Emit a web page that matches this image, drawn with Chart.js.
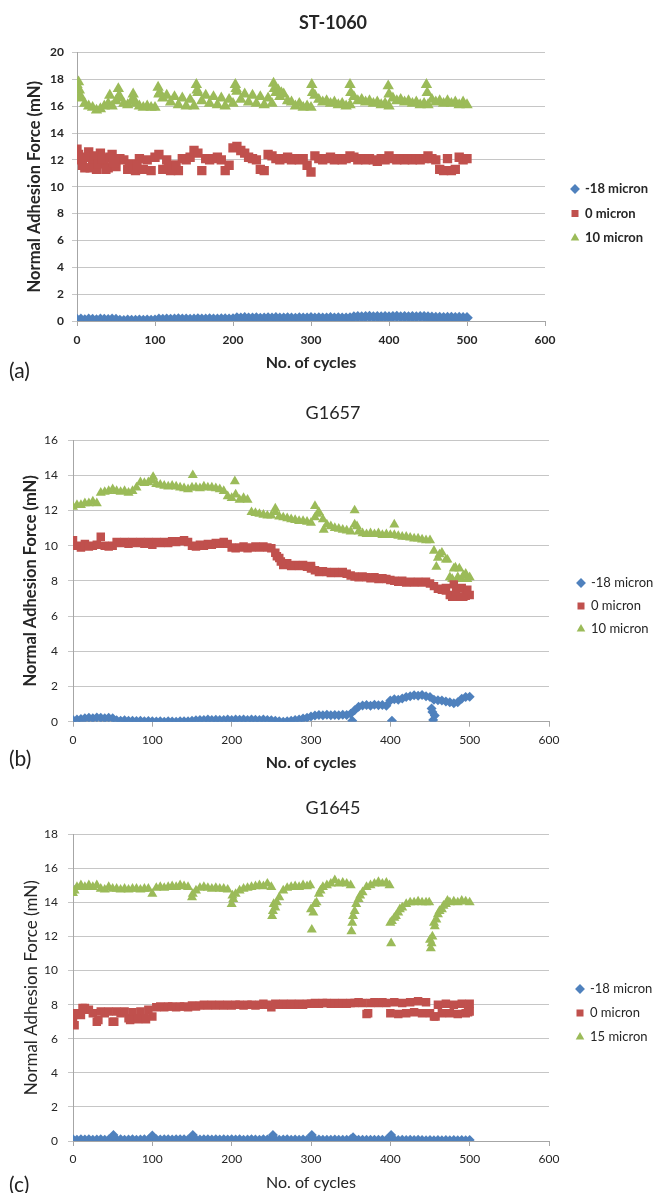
<!DOCTYPE html>
<html>
<head>
<meta charset="utf-8">
<script src="https://cdn.jsdelivr.net/npm/chart.js@4.4.1/dist/chart.umd.min.js"></script>
<style>
  body { margin: 0; background: #fff; width: 654px; height: 1193px; position: relative; overflow: hidden; font-family: Lato, sans-serif; }
  .panel { position: absolute; left: 0; width: 654px; }
  .tag { position: absolute; left: 9px; font-size: 21px; line-height: 24px; color: #222; }
</style>
</head>
<body>
<div class="panel" style="top:0"><canvas id="chart-a" width="654" height="400"></canvas></div>
<div class="panel" style="top:400px"><canvas id="chart-b" width="654" height="390"></canvas></div>
<div class="panel" style="top:790px"><canvas id="chart-c" width="654" height="403"></canvas></div>
<div class="tag" style="top:358px">(a)</div>
<div class="tag" style="top:746px">(b)</div>
<div class="tag" style="top:1172px">(c)</div>
<script>
const FONT = "Lato, 'Open Sans', sans-serif";
const BLUE = "#4f81bd";
const RED = "#c0504d";
const GREEN = "#9bbb59";

// cycle numbers shared by every series (one reading every 5 cycles)
const cycles = [
  0, 5, 10, 15, 20, 25, 30, 35, 40, 45, 50, 55, 60, 65, 70, 75, 80, 85, 90, 95,
  100, 105, 110, 115, 120, 125, 130, 135, 140, 145, 150, 155, 160, 165, 170, 175, 180, 185, 190, 195,
  200, 205, 210, 215, 220, 225, 230, 235, 240, 245, 250, 255, 260, 265, 270, 275, 280, 285, 290, 295,
  300, 305, 310, 315, 320, 325, 330, 335, 340, 345, 350, 355, 360, 365, 370, 375, 380, 385, 390, 395,
  400, 405, 410, 415, 420, 425, 430, 435, 440, 445, 450, 455, 460, 465, 470, 475, 480, 485, 490, 495, 500,
];
const xTicks = [0, 100, 200, 300, 400, 500, 600];

// ---- (a) ST-1060 ----
const stMinus18 = [
  0.10, 0.12, 0.08, 0.12, 0.10, 0.08, 0.12, 0.10, 0.09, 0.12, 0.10,
  0.04, 0.02, 0.05, 0.03, 0.04, 0.06, 0.03, 0.05, 0.04, 0.06,
  0.12, 0.10, 0.13, 0.11, 0.12, 0.14, 0.12, 0.13, 0.11, 0.12, 0.14, 0.13, 0.12, 0.15, 0.13, 0.12, 0.14, 0.15, 0.13, 0.14,
  0.22, 0.20, 0.23, 0.21, 0.20, 0.22, 0.19, 0.21, 0.22, 0.20, 0.23, 0.21, 0.20, 0.22, 0.21,
  0.19, 0.22, 0.21, 0.20, 0.23, 0.21, 0.22, 0.20, 0.21, 0.23, 0.20, 0.22, 0.21, 0.20, 0.22,
  0.30, 0.32, 0.29, 0.31, 0.33, 0.30, 0.31, 0.29, 0.32, 0.30, 0.31, 0.33, 0.30, 0.32, 0.29, 0.31, 0.30, 0.32, 0.31, 0.29,
  0.27, 0.25, 0.26, 0.24, 0.25, 0.26, 0.24, 0.25, 0.23, 0.24,
];
const st0 = [
  12.8, 12.0, 11.4, 12.6, 11.8, 11.3, 12.5, 11.9, 11.4, 12.4, 11.5,
  12.1, 12.0, 11.3, 11.7, 11.2, 12.1, 11.3, 12.0, 11.2, 12.2,
  12.4, 11.3, 12.0, 11.2, 11.6, 11.2, 12.1, 12.0, 12.2, 12.7,
  12.5, 11.2, 12.1, 12.0, 12.1, 12.2, 12.0, 11.2, 11.6, 12.9,
  13.0, 12.7, 12.5, 12.2, 12.1, 12.0, 11.3, 11.2, 12.4, 12.3,
  12.1, 12.0, 12.1, 12.2, 12.0, 12.1, 12.0, 12.1, 11.6, 11.1,
  12.3, 12.1, 12.0, 12.1, 12.2, 12.0, 12.1, 12.0, 12.1, 12.3,
  12.2, 12.0, 12.1, 12.0, 12.1, 12.0, 11.9, 12.1, 12.0, 12.3,
  12.1, 12.0, 12.1, 12.0, 12.1, 12.0, 12.1, 12.0, 12.1, 12.3,
  12.1, 12.0, 11.3, 11.2, 12.1, 11.2, 11.3, 12.2, 12.0, 12.1,
];
// readings inside the dense block of the first 50 cycles
const st0BlockX = [2, 7, 12, 17, 22, 27, 32, 37, 42, 47, 67, 72, 77, 117, 122, 127];
const st0BlockY = [12.4, 11.6, 12.2, 11.4, 12.3, 11.7, 12.1, 11.3, 12.2, 11.8, 11.6, 11.3, 11.6, 11.5, 11.3, 11.6];
const st10 = [
  17.6, 16.6, 16.2, 16.0, 15.9, 15.7, 15.8, 16.0, 16.2, 16.0, 16.4,
  16.6, 16.2, 16.1, 16.4, 16.2, 16.0, 15.9, 16.0, 15.9, 15.9,
  16.9, 16.6, 16.8, 16.3, 16.7, 16.1, 16.6, 16.0, 16.5, 16.0,
  17.0, 16.4, 16.8, 16.2, 16.7, 16.1, 16.6, 16.0, 16.5, 16.2,
  17.1, 16.5, 16.9, 16.3, 16.8, 16.2, 16.7, 16.1, 16.6, 16.2,
  17.0, 16.7, 16.9, 16.4, 16.3, 16.0, 16.2, 15.9, 16.0, 15.9,
  16.8, 16.5, 16.3, 16.4, 16.2, 16.3, 16.1, 16.2, 16.0, 16.1,
  16.7, 16.4, 16.5, 16.3, 16.4, 16.2, 16.3, 16.1, 16.2, 16.0,
  16.6, 16.4, 16.5, 16.3, 16.4, 16.2, 16.3, 16.1, 16.2, 16.1,
  16.5, 16.3, 16.4, 16.2, 16.4, 16.2, 16.3, 16.1, 16.3, 16.1,
];
// restart peaks between the 5-cycle readings
const st10PeakX = [2, 3, 4, 42, 53, 54, 72, 73, 104, 106, 153, 154, 203, 204, 252, 253, 258, 262, 301, 302, 350, 351, 399, 400, 448, 449];
const st10PeakY = [17.8, 17.2, 16.8, 16.8, 17.3, 16.8, 16.9, 16.5, 17.4, 17.0, 17.6, 17.2, 17.6, 17.3, 17.7, 17.3, 17.2, 17.0, 17.6, 17.0, 17.6, 17.0, 17.5, 16.9, 17.6, 17.0];

// ---- (b) G1657 ----
const g57Minus18 = [
  0.10, 0.12, 0.15, 0.20, 0.22, 0.20, 0.24, 0.22, 0.20, 0.23, 0.20,
  0.08, 0.06, 0.08, 0.05, 0.06, 0.04, 0.05, 0.03, 0.04, 0.02,
  0.01, 0.02, 0.00, 0.02, 0.01, 0.00, 0.02, 0.03, 0.02, 0.05,
  0.08, 0.10, 0.09, 0.12, 0.10, 0.11, 0.09, 0.10, 0.12, 0.10,
  0.13, 0.11, 0.12, 0.10, 0.13, 0.11, 0.09, 0.12, 0.10, 0.08,
  0.05, 0.02, 0.00, 0.03, 0.06, 0.10, 0.12, 0.18, 0.22,
  0.30, 0.35, 0.38, 0.36, 0.40, 0.37, 0.38, 0.36, 0.39, 0.38,
  0.45, 0.65, 0.85, 0.92, 0.95, 0.90, 0.96, 0.93, 0.95, 0.90,
  1.20, 1.28, 1.25, 1.32, 1.40, 1.45, 1.50, 1.48, 1.52, 1.45,
  1.40, 1.25, 1.22, 1.20, 1.15, 1.10, 1.05, 1.10, 1.30, 1.40, 1.42,
];
const g57Minus18ExtraX = [352, 402, 452, 453, 454, 456];
const g57Minus18ExtraY = [0.05, 0.05, 0.75, 0.55, 0.10, 0.35];
const g57Zero = [
  10.3, 10.0, 9.9, 10.1, 9.95, 10.0, 10.05, 10.5, 10.0, 9.95, 10.0,
  10.2, 10.15, 10.2, 10.1, 10.2, 10.15, 10.2, 10.1, 10.2, 10.05,
  10.2, 10.15, 10.2, 10.15, 10.25, 10.2, 10.25, 10.3, 10.2, 10.0,
  9.95, 10.05, 10.0, 10.1, 10.05, 10.15, 10.1, 10.2, 10.1, 9.9,
  9.85, 9.9, 9.95, 9.85, 9.9, 9.95, 9.9, 9.95, 9.9, 9.85,
  9.6, 9.3, 8.9, 9.0, 8.85, 8.9, 8.85, 8.9, 8.8, 8.7,
  8.6, 8.5, 8.55, 8.5, 8.45, 8.5, 8.45, 8.5, 8.4, 8.3,
  8.25, 8.2, 8.25, 8.2, 8.15, 8.2, 8.1, 8.15, 8.1, 8.05,
  8.0, 7.95, 8.0, 7.9, 7.95, 7.9, 7.95, 7.9, 7.95, 7.85,
  7.7, 7.55, 7.5, 7.45, 7.2, 7.8, 7.1, 7.6, 7.15, 7.2,
];
const g57ZeroExtraX = [257, 262, 300, 470, 478, 483, 492, 497];
const g57ZeroExtraY = [9.4, 9.1, 8.85, 7.6, 7.1, 7.4, 7.1, 7.5];
const g57Ten = [
  12.2, 12.3, 12.3, 12.4, 12.4, 12.5, 12.4, 13.0, 13.05, 13.1, 13.2,
  13.1, 13.05, 13.1, 13.0, 13.1, 13.3, 13.6, 13.55, 13.6, 13.7,
  13.5, 13.45, 13.4, 13.35, 13.4, 13.35, 13.3, 13.25, 13.2, 13.3,
  13.3, 13.25, 13.35, 13.3, 13.3, 13.25, 13.2, 13.1, 12.8, 12.7,
  12.9, 12.6, 12.7, 12.6, 11.9, 11.85, 11.8, 11.75, 11.7, 11.7,
  11.9, 11.65, 11.6, 11.55, 11.5, 11.45, 11.4, 11.4, 11.35, 11.3,
  11.6, 11.9, 11.5, 11.2, 11.1, 11.0, 10.95, 10.9, 10.85, 10.8,
  11.2, 10.8, 10.7, 10.65, 10.7, 10.65, 10.7, 10.6, 10.65, 10.6,
  10.6, 10.55, 10.5, 10.5, 10.45, 10.4, 10.4, 10.35, 10.3, 10.3,
  9.7, 9.3, 9.6, 9.2, 8.2, 8.7, 8.2, 8.1, 8.4, 8.2,
];
const g57TenExtraX = [101, 151, 204, 255, 305, 308, 316, 355, 358, 405, 458, 462, 472, 478, 482, 487, 492, 497];
const g57TenExtraY = [13.9, 14.0, 13.65, 12.1, 12.25, 11.8, 10.9, 12.0, 11.1, 11.2, 8.8, 9.5, 9.2, 8.1, 8.75, 8.7, 8.3, 8.1];

// ---- (c) G1645 ----
const g45Minus18 = [
  0.10, 0.08, 0.10, 0.09, 0.10, 0.08, 0.09, 0.10, 0.08, 0.09, 0.12, 0.09, 0.10, 0.08, 0.09, 0.10, 0.08, 0.09, 0.10, 0.09, 0.12,
  0.10, 0.09, 0.10, 0.11, 0.09, 0.10, 0.11, 0.10, 0.09, 0.14, 0.10, 0.09, 0.10, 0.11, 0.09, 0.10, 0.09, 0.10, 0.09, 0.10,
  0.09, 0.10, 0.08, 0.09, 0.10, 0.09, 0.08, 0.10, 0.09, 0.12, 0.09, 0.08, 0.09, 0.10, 0.08, 0.09, 0.08, 0.09, 0.08, 0.12,
  0.08, 0.09, 0.08, 0.07, 0.08, 0.09, 0.08, 0.07, 0.08, 0.10, 0.08, 0.07, 0.08, 0.07, 0.08, 0.07, 0.08, 0.07, 0.08, 0.11,
  0.07, 0.06, 0.07, 0.06, 0.07, 0.06, 0.07, 0.06, 0.05, 0.06, 0.05, 0.06, 0.05, 0.06, 0.05, 0.06, 0.05, 0.06, 0.05, 0.06,
];
const g45Minus18ExtraX = [51, 100, 151, 252, 301, 353, 401];
const g45Minus18ExtraY = [0.35, 0.32, 0.35, 0.35, 0.35, 0.22, 0.35];
const g45Zero = [
  7.2, 7.5, 7.4, 7.8, 7.7, 7.5, 7.0, 7.6, 7.5, 7.6, 7.0,
  7.6, 7.5, 7.6, 7.2, 7.55, 7.2, 7.6, 7.2, 7.7, 7.3,
  7.85, 7.9, 7.85, 7.9, 7.9, 7.85, 7.9, 7.9, 7.85, 7.95,
  7.9, 7.95, 8.0, 7.95, 8.0, 7.95, 8.0, 7.95, 8.0, 7.95,
  8.0, 8.0, 7.95, 8.0, 8.0, 7.95, 8.0, 8.05, 8.0, 7.85,
  8.05, 8.0, 8.05, 8.0, 8.05, 8.0, 8.05, 8.0, 8.05, 8.05,
  8.1, 8.05, 8.1, 8.1, 8.05, 8.1, 8.05, 8.1, 8.05, 8.1,
  8.1, 8.15, 8.1, 7.45, 8.1, 8.15, 8.1, 8.15, 8.1, 7.5,
  8.15, 7.45, 8.1, 7.5, 8.15, 7.55, 8.2, 7.5, 8.15, 7.5,
  7.3, 8.0, 7.5, 8.05, 7.5, 8.0, 7.45, 8.05, 7.5, 8.05,
];
const g45ZeroExtraX = [2, 12, 32, 52, 72, 82, 92, 372, 457, 498, 500];
const g45ZeroExtraY = [6.8, 7.8, 7.1, 7.0, 7.1, 7.15, 7.15, 7.5, 7.3, 7.55, 7.6];
const g45Fifteen = [
  14.55, 14.9, 15.0, 14.9, 15.0, 14.9, 15.0, 14.8, 14.75, 14.9, 14.8,
  14.8, 14.75, 14.8, 14.75, 14.8, 14.8, 14.75, 14.8, 14.8, 14.5,
  14.85, 14.9, 14.85, 14.9, 14.95, 14.9, 15.0, 14.95, 14.9, 14.3,
  14.7, 14.85, 14.9, 14.85, 14.8, 14.85, 14.8, 14.8, 14.75, 13.9,
  14.5, 14.7, 14.8, 14.85, 14.9, 14.95, 15.0, 14.95, 15.1, 14.9,
  13.7, 14.3, 14.7, 14.85, 14.9, 14.95, 14.9, 15.0, 14.95, 13.6,
  13.9, 14.5, 14.9, 15.0, 15.1, 15.3, 15.1, 15.15, 15.1, 15.0,
  13.5, 14.2, 14.6, 14.9, 15.0, 15.1, 15.2, 15.1, 15.15, 12.8,
  13.1, 13.4, 13.7, 13.9, 14.0, 14.0, 14.05, 14.0, 14.0, 11.8,
  12.8, 13.3, 13.6, 13.9, 14.0, 14.05, 14.0, 14.1, 14.05, 14.0,
];
const g45FifteenExtraX = [2, 151, 201, 202, 251, 252, 253, 257, 299, 301, 303, 307, 312, 351, 352, 353, 357, 362, 399, 401, 402, 407, 412, 449, 451, 452, 453, 456, 458, 462, 467, 472];
const g45FifteenExtraY = [14.7, 14.5, 14.4, 14.2, 13.2, 13.5, 13.9, 14.0, 15.0, 12.4, 13.4, 14.0, 14.7, 12.3, 12.8, 13.2, 13.9, 14.4, 15.0, 11.6, 12.9, 13.2, 13.6, 14.0, 11.3, 11.6, 12.0, 12.6, 13.0, 13.5, 13.8, 14.1];

function toPoints(xs, ys, extraX = [], extraY = []) {
  const pts = xs.map((x, i) => ({ x: x, y: ys[i] }));
  extraX.forEach((x, i) => pts.push({ x: x, y: extraY[i] }));
  return pts;
}

function series(label, color, style, radius, pts) {
  return {
    label: label,
    data: pts,
    pointStyle: style,
    pointRadius: radius,
    pointHoverRadius: radius,
    backgroundColor: color,
    borderColor: color,
    borderWidth: 0,
    showLine: false,
  };
}

// places the legend at a fixed spot to the right of the plot
const legendSpot = {
  id: "legendSpot",
  afterLayout(chart, args, opts) {
    const l = chart.legend;
    l.left = opts.x - opts.box / 2 - opts.pad;
    l.top = opts.y - opts.size / 2 - opts.pad;
    l.width = 130;
    l.height = 120;
    l.right = l.left + 130;
    l.bottom = l.top + 120;
  },
};

function makeChart(id, s) {
  const ctx = document.getElementById(id).getContext("2d");
  const textColor = "#262626";
  return new Chart(ctx, {
    type: "scatter",
    data: { datasets: s.datasets },
    plugins: [legendSpot],
    options: {
      responsive: false,
      animation: false,
      events: [],
      layout: { padding: { left: 12, top: 0, right: 0, bottom: s.padBottom } },
      scales: {
        x: {
          type: "linear",
          min: 0,
          max: 600,
          afterBuildTicks: (axis) => { axis.ticks = xTicks.map((v) => ({ value: v })); },
          afterFit: (axis) => { axis.height = s.xHeight; },
          grid: { display: true, drawOnChartArea: false, tickLength: 5, color: "#a6a6a6" },
          border: { color: "#a6a6a6" },
          ticks: { padding: s.xTickPad, color: textColor, font: { family: FONT, size: 12, weight: s.tickWeight } },
          title: {
            display: true,
            text: "No. of cycles",
            color: textColor,
            padding: { top: 0, bottom: 0 },
            font: { family: FONT, size: 16, weight: s.axisWeight },
          },
        },
        y: {
          min: 0,
          max: s.yMax,
          afterFit: (axis) => { axis.width = s.yWidth; },
          grid: { color: "#c6c6c6", tickLength: 5, lineWidth: 1 },
          border: { color: "#a6a6a6" },
          ticks: { stepSize: 2, padding: s.yTickPad, color: textColor, font: { family: FONT, size: 12, weight: s.tickWeight } },
          title: {
            display: true,
            text: "Normal Adhesion Force (mN)",
            color: textColor,
            padding: { top: s.yTitlePad, bottom: 0 },
            font: { family: FONT, size: s.yTitleSize, weight: s.axisWeight },
          },
        },
        spare: {
          type: "linear",
          position: "right",
          display: true,
          afterFit: (axis) => { axis.width = s.rightGap; },
          grid: { display: false, drawTicks: false },
          border: { display: false },
          ticks: { display: false },
        },
      },
      plugins: {
        title: {
          display: true,
          text: s.title,
          color: textColor,
          padding: { top: s.titlePadTop, bottom: s.titlePadBottom },
          font: { family: FONT, size: 18, weight: s.titleWeight },
        },
        legend: {
          position: "chartArea",
          align: "start",
          labels: {
            usePointStyle: true,
            boxWidth: 7,
            boxHeight: 7,
            padding: s.legendPad,
            color: textColor,
            font: { family: FONT, size: 13, weight: s.legendWeight },
          },
        },
        legendSpot: { x: s.legendX, y: s.legendY, box: 7, pad: s.legendPad, size: 13 },
        tooltip: { enabled: false },
      },
    },
  });
}

makeChart("chart-a", {
  title: "ST-1060",
  yMax: 20,
  datasets: [
    series("-18 micron", BLUE, "rectRot", 5.8, toPoints(cycles, stMinus18)),
    series("0 micron", RED, "rect", 6.6, toPoints(cycles, st0, st0BlockX, st0BlockY)),
    series("10 micron", GREEN, "triangle", 6.6, toPoints(cycles, st10, st10PeakX, st10PeakY)),
  ],
  padBottom: 27.4, xHeight: 51.6, xTickPad: 7,
  yWidth: 65, yTickPad: 8, yTitlePad: 13.1, yTitleSize: 16.5,
  rightGap: 109,
  titlePadTop: 12.2, titlePadBottom: 18.7,
  legendX: 575, legendY: 189, legendPad: 11.5,
  titleWeight: "bold", axisWeight: "bold", tickWeight: "bold", legendWeight: "bold",
});

makeChart("chart-b", {
  title: "G1657",
  yMax: 16,
  datasets: [
    series("-18 micron", BLUE, "rectRot", 5, toPoints(cycles, g57Minus18, g57Minus18ExtraX, g57Minus18ExtraY)),
    series("0 micron", RED, "rect", 6, toPoints(cycles, g57Zero, g57ZeroExtraX, g57ZeroExtraY)),
    series("10 micron", GREEN, "triangle", 5.8, toPoints(cycles, g57Ten, g57TenExtraX, g57TenExtraY)),
  ],
  padBottom: 17.4, xHeight: 50.9, xTickPad: 6,
  yWidth: 61, yTickPad: 10, yTitlePad: 9.1, yTitleSize: 16.5,
  rightGap: 105,
  titlePadTop: 2.2, titlePadBottom: 16.2,
  legendX: 581, legendY: 583 - 400, legendPad: 10,
  titleWeight: "normal", axisWeight: "bold", tickWeight: "normal", legendWeight: "normal",
});

makeChart("chart-c", {
  title: "G1645",
  yMax: 18,
  datasets: [
    series("-18 micron", BLUE, "rectRot", 5, toPoints(cycles, g45Minus18, g45Minus18ExtraX, g45Minus18ExtraY)),
    series("0 micron", RED, "rect", 6, toPoints(cycles, g45Zero, g45ZeroExtraX, g45ZeroExtraY)),
    series("15 micron", GREEN, "triangle", 5.8, toPoints(cycles, g45Fifteen, g45FifteenExtraX, g45FifteenExtraY)),
  ],
  padBottom: 0.4, xHeight: 51.6, xTickPad: 6,
  yWidth: 61, yTickPad: 10, yTitlePad: 9.1, yTitleSize: 17,
  rightGap: 105,
  titlePadTop: 7.2, titlePadBottom: 15.5,
  legendX: 580, legendY: 989 - 790, legendPad: 11,
  titleWeight: "normal", axisWeight: "normal", tickWeight: "normal", legendWeight: "normal",
});
</script>
</body>
</html>
